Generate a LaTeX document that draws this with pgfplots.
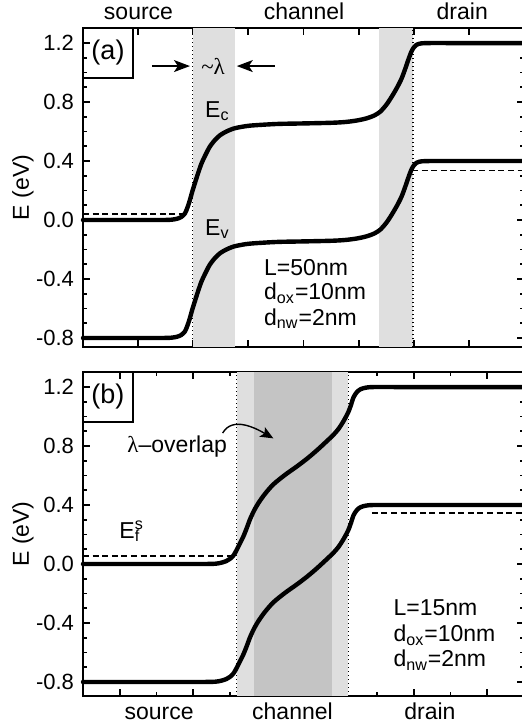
\documentclass[border=0pt]{standalone}
\usepackage{fontspec}
\setmainfont{Liberation Sans}
\newfontfamily\serif{Liberation Serif}
\usepackage{pgfplots}
\pgfplotsset{compat=1.18}
\usetikzlibrary{arrows.meta}
\definecolor{bandlight}{gray}{0.875}
\definecolor{banddark}{gray}{0.77}
\pgfplotsset{
  myaxis/.style={
    scale only axis, width=220.5pt, clip=false,
    xmin=0,
    xticklabels={},
    ytick={-0.8,-0.4,0,0.4,0.8,1.2},
    minor y tick num=3,
    /pgf/number format/assume math mode=true,
    yticklabel style={font=\fontsize{11}{13}\selectfont,/pgf/number format/fixed,/pgf/number format/fixed zerofill,/pgf/number format/precision=1, xshift=-0.5pt},
    axis line style={line width=1pt},
    tick style={line width=0.9pt, black},
    major tick length=3.6pt,
    minor tick length=2pt,
    tick align=inside,
  },
  band/.style={line width=2.2pt, black, line join=round, line cap=round},
  fermi/.style={line width=0.8pt, black, dash pattern=on 3pt off 1.8pt},
  vdot/.style={line width=0.7pt, black, dash pattern=on 0.7pt off 1.3pt},
}
\begin{document}
\fontsize{11.5}{13.8}\selectfont
\begin{tikzpicture}
% ---------------- panel (a)
\begin{axis}[myaxis, at={(41.5pt,-14pt)}, anchor=north west, height=159.5pt,
  xmax=8, ymin=-0.861, ymax=1.302, xtick={1,2,...,7}]
\addplot[draw=none, fill=bandlight] coordinates {(2.0,-0.861) (2.76,-0.861) (2.76,1.302) (2.0,1.302)} -- cycle;
\addplot[draw=none, fill=bandlight] coordinates {(5.375,-0.861) (5.99,-0.861) (5.99,1.302) (5.375,1.302)} -- cycle;
\addplot[vdot] coordinates {(1.99,-0.861) (1.99,1.302)};
\addplot[vdot] coordinates {(5.99,-0.861) (5.99,1.302)};
\addplot[fermi] coordinates {(0,0.04) (1.83,0.04)};
\addplot[fermi] coordinates {(5.97,0.335) (8,0.335)};
% Ec
\addplot[band, smooth, tension=0.5] coordinates {
(0,0) (0.5,0) (1.0,0) (1.3,0) (1.5,0.0005) (1.6,0.002) (1.7,0.008) (1.78,0.02) (1.85,0.045) (1.9,0.09) (1.94,0.136)
(1.98,0.19) (2.03,0.25) (2.09,0.32) (2.15,0.384) (2.22,0.44) (2.30,0.497) (2.40,0.545)
(2.49,0.576) (2.60,0.60) (2.73,0.62) (2.88,0.632) (3.03,0.64) (3.3,0.647) (3.57,0.652)
(4.0,0.655) (4.48,0.659) (4.7,0.663) (4.84,0.668) (5.0,0.677) (5.15,0.69) (5.28,0.708)
(5.39,0.734) (5.5,0.78) (5.6,0.836) (5.7,0.90) (5.78,0.96) (5.85,1.03) (5.90,1.085)
(5.95,1.135) (5.99,1.164) (6.05,1.188) (6.14,1.198) (6.3,1.2) (6.6,1.2) (7.0,1.2) (7.5,1.2) (8,1.2)};
% Ev
\addplot[band, smooth, tension=0.5] coordinates {
(0,-0.8) (0.5,-0.8) (1.0,-0.8) (1.3,-0.8) (1.5,-0.7995) (1.6,-0.798) (1.7,-0.792) (1.78,-0.78) (1.85,-0.755) (1.9,-0.71) (1.94,-0.664)
(1.98,-0.61) (2.03,-0.55) (2.09,-0.48) (2.15,-0.416) (2.22,-0.36) (2.30,-0.303) (2.40,-0.255)
(2.49,-0.224) (2.60,-0.20) (2.73,-0.18) (2.88,-0.168) (3.03,-0.16) (3.3,-0.153) (3.57,-0.148)
(4.0,-0.145) (4.48,-0.141) (4.7,-0.137) (4.84,-0.132) (5.0,-0.123) (5.15,-0.11) (5.28,-0.092)
(5.39,-0.066) (5.5,-0.02) (5.6,0.036) (5.7,0.10) (5.78,0.16) (5.85,0.23) (5.90,0.285)
(5.95,0.335) (5.99,0.364) (6.05,0.388) (6.14,0.398) (6.3,0.4) (6.6,0.4) (7.0,0.4) (7.5,0.4) (8,0.4)};
% annotations
\draw[line width=1pt] (rel axis cs:0,1) rectangle (axis cs:0.907,0.963);
\node[font=\fontsize{13.5}{16}\selectfont] at (axis cs:0.4535,1.1325) {(a)};
\draw[line width=0.7pt, -{Stealth[length=8pt,width=6pt,inset=2pt]}] (axis cs:1.25,1.044) -- (axis cs:1.94,1.044);
\draw[line width=0.7pt, -{Stealth[length=8pt,width=6pt,inset=2pt]}] (axis cs:3.48,1.044) -- (axis cs:2.79,1.044);
\node at (axis cs:2.36,1.04) {\serif\textasciitilde λ};
\node[anchor=base west, inner sep=0pt] at (axis cs:2.21,0.698) {E\textsubscript{c}};
\node[anchor=base west, inner sep=0pt] at (axis cs:2.21,-0.102) {E\textsubscript{v}};
\node[anchor=base west, inner sep=0pt] at (axis cs:3.28,-0.373) {L=50nm};
\node[anchor=base west, inner sep=0pt] at (axis cs:3.28,-0.542) {d\textsubscript{ox}=10nm};
\node[anchor=base west, inner sep=0pt] at (axis cs:3.28,-0.712) {d\textsubscript{nw}=2nm};
\node[anchor=base] at ([yshift=4.25pt]axis cs:1.007,1.302) {source};
\node[anchor=base] at ([yshift=4.25pt]axis cs:4.01,1.302) {channel};
\node[anchor=base] at ([yshift=4.25pt]axis cs:6.88,1.302) {drain};
\node[rotate=90, anchor=center] at ([xshift=-30pt]rel axis cs:0,0.5) {E (eV)};
\end{axis}
% ---------------- panel (b)
\begin{axis}[myaxis, at={(41.5pt,-186pt)}, anchor=north west, height=162pt,
  xmax=12, ymin=-0.895, ymax=1.302, xtick={1,3,...,11}, minor xtick={2,4,...,10}]
\addplot[draw=none, fill=bandlight] coordinates {(4.18,-0.895) (7.22,-0.895) (7.22,1.302) (4.18,1.302)} -- cycle;
\addplot[draw=none, fill=banddark] coordinates {(4.65,-0.895) (6.77,-0.895) (6.77,1.302) (4.65,1.302)} -- cycle;
\addplot[vdot] coordinates {(4.18,-0.895) (4.18,1.302)};
\addplot[vdot] coordinates {(7.22,-0.895) (7.22,1.302)};
\addplot[fermi] coordinates {(0,0.055) (4.05,0.055)};
\addplot[fermi] coordinates {(7.86,0.344) (12,0.344)};
% Ec
\addplot[band, smooth, tension=0.5] coordinates {
(0,0) (1,0) (2,0) (3,0) (3.4,0.0005) (3.6,0.002) (3.75,0.008) (3.9,0.02) (4.0,0.035) (4.1,0.06) (4.18,0.095)
(4.27,0.14) (4.36,0.185) (4.45,0.24) (4.54,0.30) (4.65,0.36) (4.77,0.412) (4.95,0.475)
(5.18,0.54) (5.5,0.605) (5.81,0.66) (6.1,0.715) (6.36,0.77) (6.6,0.825) (6.81,0.875)
(6.95,0.915) (7.08,0.965) (7.22,1.03) (7.30,1.085) (7.36,1.13) (7.45,1.165) (7.55,1.185)
(7.7,1.196) (7.9,1.2) (8.5,1.2) (9.5,1.2) (10.5,1.2) (12,1.2)};
% Ev
\addplot[band, smooth, tension=0.5] coordinates {
(0,-0.8) (1,-0.8) (2,-0.8) (3,-0.8) (3.4,-0.7995) (3.6,-0.798) (3.75,-0.792) (3.9,-0.78) (4.0,-0.765) (4.1,-0.74) (4.18,-0.705)
(4.27,-0.66) (4.36,-0.615) (4.45,-0.56) (4.54,-0.50) (4.65,-0.44) (4.77,-0.388) (4.95,-0.325)
(5.18,-0.26) (5.5,-0.195) (5.81,-0.14) (6.1,-0.085) (6.36,-0.03) (6.6,0.025) (6.81,0.075)
(6.95,0.115) (7.08,0.165) (7.22,0.23) (7.30,0.285) (7.36,0.33) (7.45,0.365) (7.55,0.385)
(7.7,0.396) (7.9,0.4) (8.5,0.4) (9.5,0.4) (10.5,0.4) (12,0.4)};
% annotations
\draw[line width=1pt] (rel axis cs:0,1) rectangle (axis cs:1.36,0.963);
\node[font=\fontsize{13.5}{16}\selectfont] at (axis cs:0.68,1.1325) {(b)};
\node[anchor=base west, inner sep=0pt] at (axis cs:1.2,0.753) {{\serif λ}–overlap};
\draw[line width=0.7pt, -{Stealth[length=6.5pt,width=5.5pt,inset=1.5pt]}] (axis cs:3.8,0.888) to[out=60, in=150] (axis cs:5.18,0.852);
\node[anchor=base west, inner sep=0pt] at (axis cs:0.98,0.176) {E\rlap{\textsuperscript{s}}\textsubscript{f}};
\node[anchor=base west, inner sep=0pt] at (axis cs:8.44,-0.346) {L=15nm};
\node[anchor=base west, inner sep=0pt] at (axis cs:8.44,-0.527) {d\textsubscript{ox}=10nm};
\node[anchor=base west, inner sep=0pt] at (axis cs:8.44,-0.696) {d\textsubscript{nw}=2nm};
\node[anchor=base] at ([yshift=-11.5pt]axis cs:2.07,-0.895) {source};
\node[anchor=base] at ([yshift=-11.5pt]axis cs:5.70,-0.895) {channel};
\node[anchor=base] at ([yshift=-11.5pt]axis cs:9.44,-0.895) {drain};
\node[rotate=90, anchor=center] at ([xshift=-30pt]rel axis cs:0,0.5) {E (eV)};
\end{axis}
\pgfresetboundingbox
\useasboundingbox (0,0) rectangle (260.5pt,-362.5pt);
\end{tikzpicture}
\end{document}
